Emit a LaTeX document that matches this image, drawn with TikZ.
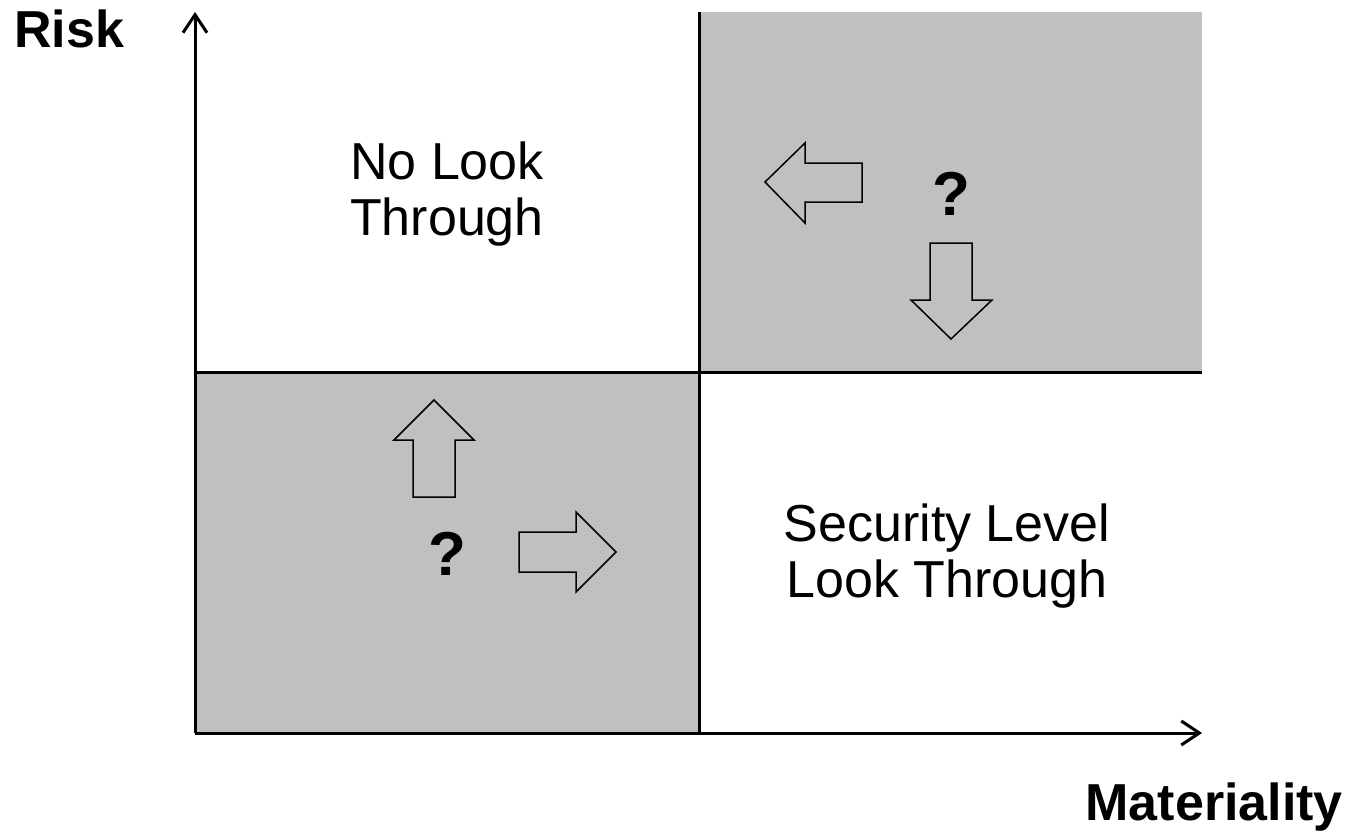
\documentclass[tikz,border=0pt]{standalone}
\usepackage{fontspec}
\setmainfont{Liberation Sans}
\usetikzlibrary{arrows.meta}
\definecolor{quadgray}{RGB}{192,192,192}
\tikzset{
  axis/.style={line width=3pt, -{Straight Barb[length=18pt,width=24pt]}},
  divider/.style={line width=3pt},
  quadrant/.style={fill=quadgray, draw=none},
  blockarrow/.style={draw=black, line width=1.5pt, fill=none, line join=miter},
  axislabel/.style={font=\fontsize{52}{56}\selectfont\bfseries, inner sep=0pt},
  zonelabel/.style={font=\fontsize{52}{56}\selectfont, align=center, inner sep=0pt},
  qmark/.style={font=\fontsize{62}{66}\selectfont\bfseries, inner sep=0pt}
}
\begin{document}
\begin{tikzpicture}[x=1pt, y=-1pt]
  \useasboundingbox (0,0) rectangle (1349,832);

  % shaded quadrants
  \fill[quadrant] (195,372) rectangle (699,733);
  \fill[quadrant] (699,12) rectangle (1202,372);

  % corner points of the grid
  \coordinate (origin) at (195,733);
  \coordinate (ytip) at (195,12);
  \coordinate (xtip) at (1202,733);
  \coordinate (vtop) at (699,12);
  \coordinate (vbot) at (699,733);
  \coordinate (hleft) at (195,372);
  \coordinate (hright) at (1202,372);

  % quadrant dividers
  \draw[divider] (vtop) -- (vbot);
  \draw[divider] (hleft) -- (hright);

  % axes
  \draw[axis] (origin) -- (ytip);
  \draw[axis] (origin) -- (xtip);

  % axis labels
  \node[axislabel, anchor=base west] (risk) at (14,48) {Risk};
  \node[axislabel, anchor=base east] (materiality) at (1343,820) {Materiality};

  % zone labels
  \node[zonelabel] (nolook) at (447,194) {No Look\\Through};
  \node[zonelabel] (seclevel) at (947,556) {Security Level\\Look Through};

  % question marks
  \node[qmark] (qupper) at (951,194) {?};
  \node[qmark] (qlower) at (447,554) {?};

  % block arrows: left
  \draw[blockarrow] (765,182) -- (805,143) -- (805,163) -- (862,163)
    -- (862,202) -- (805,202) -- (805,223) -- cycle;
  % down
  \draw[blockarrow] (951,339) -- (911,300) -- (930,300) -- (930,243)
    -- (972,243) -- (972,300) -- (992,300) -- cycle;
  % up
  \draw[blockarrow] (434,400) -- (474,440) -- (455,440) -- (455,497)
    -- (413,497) -- (413,440) -- (394,440) -- cycle;
  % right
  \draw[blockarrow] (616,552) -- (576,592) -- (576,572) -- (519,572)
    -- (519,532) -- (576,532) -- (576,512) -- cycle;
\end{tikzpicture}
\end{document}
